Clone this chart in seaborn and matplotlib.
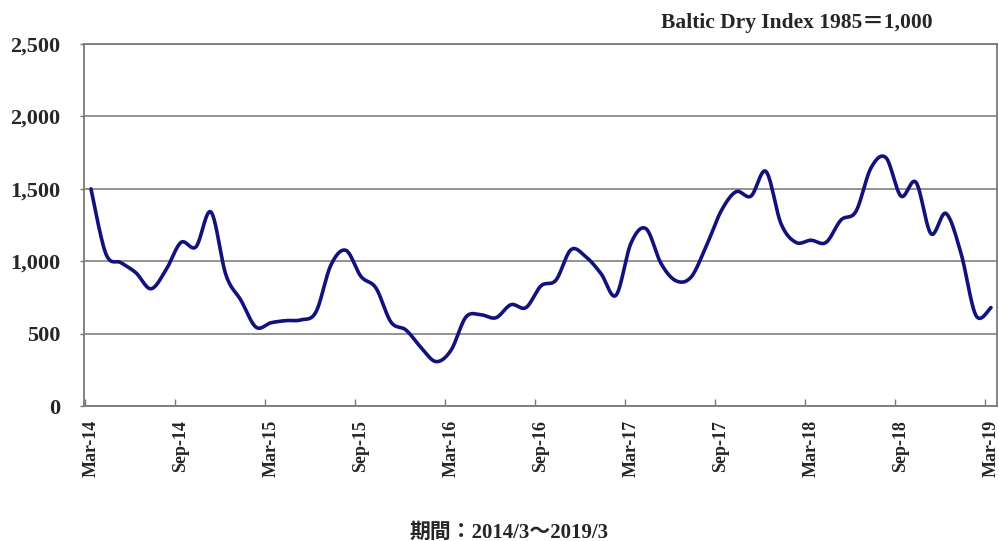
import numpy as np
import pandas as pd
import matplotlib
matplotlib.use("Agg")
import matplotlib.pyplot as plt
import seaborn as sns

# ---- data (monthly Baltic Dry Index, Mar-2014 .. Mar-2019) ----
bdi = [1500, 1050, 990, 920, 810, 940, 1130, 1100, 1340, 905,
       730, 545, 575, 590, 595, 650, 975, 1075, 895, 815,
       580, 525, 405, 307, 385, 615, 630, 610, 700, 680,
       830, 870, 1080, 1030, 915, 765, 1125, 1225, 985, 865,
       890, 1100, 1345, 1480, 1450, 1620, 1260, 1130, 1145, 1130,
       1285, 1345, 1645, 1715, 1450, 1545, 1190, 1330, 1055, 625,
       680]
tick_labels = ["Mar-14", "Sep-14", "Mar-15", "Sep-15", "Mar-16", "Sep-16",
               "Mar-17", "Sep-17", "Mar-18", "Sep-18", "Mar-19"]
y_ticks = [0, 500, 1000, 1500, 2000, 2500]
title_text = "Baltic Dry Index 1985\uff1d1,000"
xlabel_text = "期間：2014/3～2019/3"

month_idx = np.arange(len(bdi))


def catmull_rom(xs, ys, n=24):
    P = np.column_stack([xs, ys]).astype(float)
    P = np.vstack([P[0], P, P[-1]])
    out = []
    t = np.linspace(0, 1, n, endpoint=False)[:, None]
    for i in range(1, len(P) - 2):
        p0, p1, p2, p3 = P[i - 1], P[i], P[i + 1], P[i + 2]
        seg = 0.5 * (2 * p1 + (-p0 + p2) * t
                     + (2 * p0 - 5 * p1 + 4 * p2 - p3) * t ** 2
                     + (-p0 + 3 * p1 - 3 * p2 + p3) * t ** 3)
        out.append(seg)
    out.append(P[-2][None, :])
    return np.vstack(out)


curve = catmull_rom(month_idx, bdi)
df = pd.DataFrame({"m": curve[:, 0], "v": curve[:, 1], "k": np.arange(len(curve))})

sns.set_theme(style="white")
plt.rcParams["font.family"] = ["Liberation Serif", "Noto Sans CJK JP", "DejaVu Sans"]

fig = plt.figure(figsize=(9.99, 5.41), dpi=100)
ax = fig.add_axes([0.084, 0.2495, 0.914, 0.669])

sns.lineplot(data=df, x="m", y="v", sort=False, estimator=None,
             color="#12127e", linewidth=2.6, ax=ax)

ax.set_xlim(-0.47, 60.4)
ax.set_ylim(0, 2500)

# y axis
ax.set_yticks(y_ticks)
ax.set_yticklabels([f"{v:,}" for v in y_ticks], fontsize=16, fontweight="bold")
ax.yaxis.grid(True, color="#8a8a8a", linewidth=1.3)
ax.set_axisbelow(True)
ax.tick_params(axis="y", left=True, length=3, width=1, color="#777777", pad=14)

# x axis: labels at data months, tick marks at month boundaries
major = np.arange(0, 61, 6)
ax.set_xticks(major)
ax.set_xticklabels(tick_labels, rotation=90, fontsize=13, fontweight="bold",
                   va="top", ha="center")
ax.tick_params(axis="x", which="major", length=0, pad=10)
ax.set_xticks(major - 0.4, minor=True)
ax.tick_params(axis="x", which="minor", bottom=True, direction="in",
               length=5, width=1, color="#777777")

ax.set_xlabel("")
ax.set_ylabel("")
for s in ax.spines.values():
    s.set_visible(True)
    s.set_color("#7a7a7a")
    s.set_linewidth(1.3)

fig.text(0.798, 0.957, title_text, ha="center", va="center",
         fontsize=15.5, fontweight="bold")
fig.text(0.51, 0.015, xlabel_text, ha="center", va="center",
         fontsize=15, fontweight="bold")

fig.savefig("out.png", dpi=100)
